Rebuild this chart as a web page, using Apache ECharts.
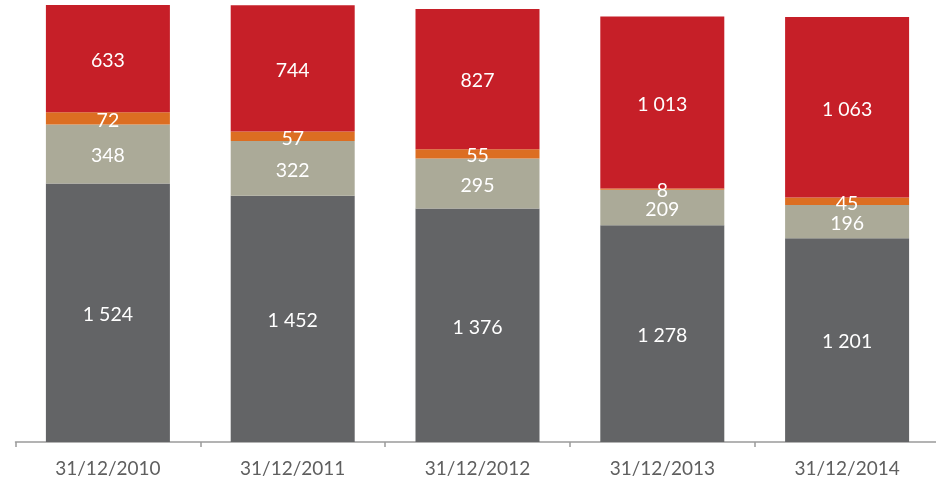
<!DOCTYPE html>
<html>
<head>
<meta charset="utf-8">
<script src="https://cdn.jsdelivr.net/npm/echarts@6/dist/echarts.min.js"></script>
<style>
  html, body { margin: 0; padding: 0; background: #fff; overflow: hidden; }
  #chart { width: 944px; height: 482px; }
</style>
</head>
<body>
<div id="chart"></div>
<script>
// Year-end dates
const categories = ['31/12/2010', '31/12/2011', '31/12/2012', '31/12/2013', '31/12/2014'];

// Stack segments, bottom to top
const seriesDark   = [1524, 1452, 1376, 1278, 1201];
const seriesBeige  = [348, 322, 295, 209, 196];
const seriesOrange = [72, 57, 55, 8, 45];
const seriesRed    = [633, 744, 827, 1013, 1063];

const FONT = 'Lato';

// Thousands separated by a space, e.g. "1 524"
function fmt(v) {
  return String(v).replace(/\B(?=(\d{3})+(?!\d))/g, ' ');
}

function stackSeries(name, data, color) {
  return {
    name: name,
    type: 'bar',
    stack: 'total',
    data: data,
    barWidth: 124,
    itemStyle: { color: color },
    label: {
      show: true,
      position: 'inside',
      offset: [0, 2],
      color: '#ffffff',
      fontFamily: FONT,
      fontSize: 19.5,
      formatter: p => fmt(p.value)
    },
    emphasis: { disabled: true }
  };
}

const chart = echarts.init(document.getElementById('chart'), null, { renderer: 'canvas' });
chart.setOption({
  animation: false,
  backgroundColor: '#ffffff',
  grid: { left: 15.5, top: 1, width: 924, bottom: 40, containLabel: false },
  xAxis: {
    type: 'category',
    data: categories,
    axisLine: { show: true, lineStyle: { color: '#9a9a9a', width: 1.5 } },
    axisTick: { show: true, length: 5, alignWithLabel: false, lineStyle: { color: '#9a9a9a', width: 1.5 } },
    axisLabel: { color: '#5f5f5f', fontFamily: FONT, fontSize: 19, margin: 17 }
  },
  yAxis: {
    type: 'value',
    min: 0,
    max: 2600,
    show: false,
    splitLine: { show: false }
  },
  series: [
    stackSeries('dark', seriesDark, '#636466'),
    stackSeries('beige', seriesBeige, '#abaa98'),
    stackSeries('orange', seriesOrange, '#dc6e22'),
    stackSeries('red', seriesRed, '#c61f28')
  ]
});
</script>
</body>
</html>
